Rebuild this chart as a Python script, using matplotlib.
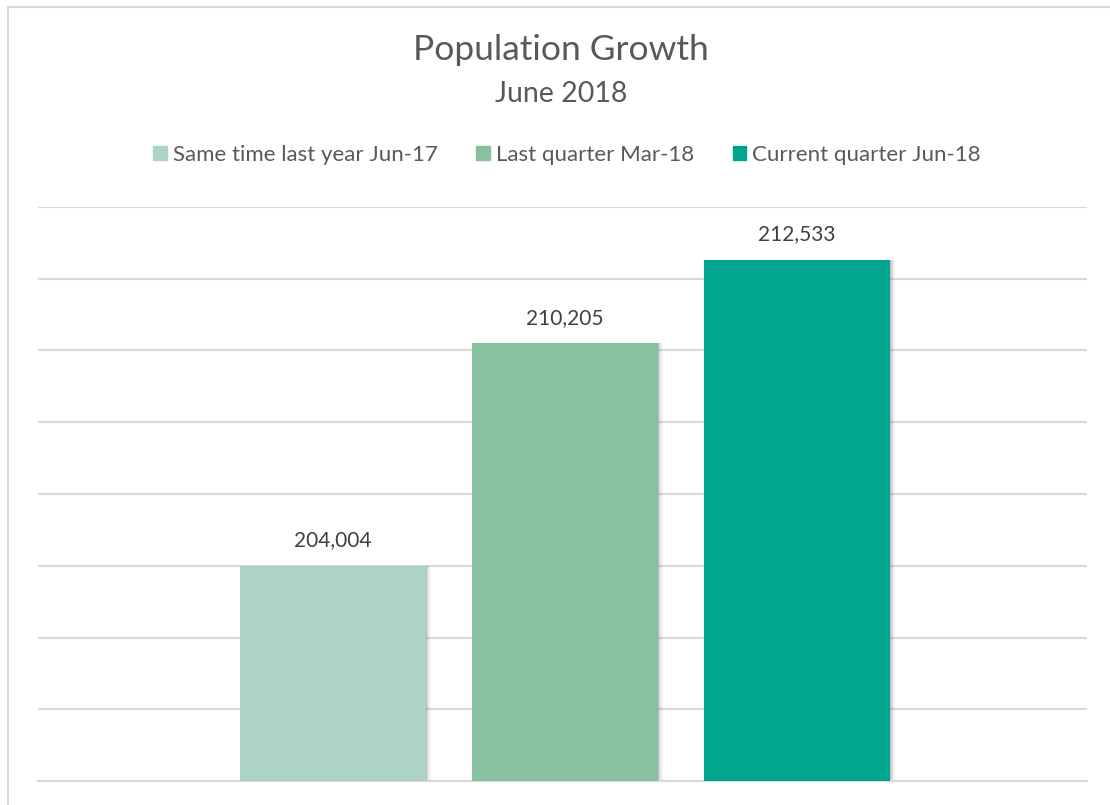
import numpy as np
import matplotlib
matplotlib.use('Agg')
from matplotlib import pyplot
from matplotlib.patches import Rectangle

series = ['Same time last year Jun-17', 'Last quarter Mar-18', 'Current quarter Jun-18']
population = [204004, 210205, 212533]
colors = ['#ADD3C9', '#87C2A0', '#00A58E']
y_ticks = np.arange(198000, 214001, 2000)

pyplot.rcParams['font.family'] = ['Lato', 'DejaVu Sans']

fig = pyplot.figure(figsize=(11.1, 8.05), dpi=100)
ax = fig.add_axes([38 / 1110, 24 / 805, (1087 - 38) / 1110, (781 - 207) / 805])

x = np.arange(len(population))
# soft shadow to the right of each bar
for k, a in enumerate([0.22, 0.14, 0.08, 0.04]):
    ax.bar(x + 0.006 + k * 0.006, population, width=0.8, bottom=0, color='#606060',
           alpha=a, zorder=2)
bars = ax.bar(x, population, width=0.8, color=colors, zorder=3)

for xi, v in zip(x, population):
    ax.annotate(f'{v:,}', (xi, v), xytext=(0, 11), textcoords='offset points',
                ha='center', va='bottom', fontsize=15, color='#404040')

ax.set_ylim(198000, 214000)
ax.set_xlim(-1.27, 3.25)
ax.set_yticks(y_ticks)
ax.yaxis.grid(True, color='#D9D9D9', linewidth=1.5, zorder=0)
ax.set_axisbelow(True)
ax.tick_params(left=False, bottom=False, labelleft=False, labelbottom=False)
for s in ['top', 'right', 'left']:
    ax.spines[s].set_visible(False)
ax.spines['bottom'].set_color('#D9D9D9')
ax.spines['bottom'].set_linewidth(1.5)

cx = 561 / 1110
fig.text(cx, 1 - 50 / 805, 'Population Growth', ha='center', va='center',
         fontsize=25.5, color='#595959')
fig.text(cx, 1 - 94 / 805, 'June 2018', ha='center', va='center',
         fontsize=20.5, color='#595959')

handles = [Rectangle((0, 0), 1, 1, color=c) for c in colors]
fig.legend(handles, series, loc='center', bbox_to_anchor=(567 / 1110, 1 - 155 / 805),
           ncol=3, frameon=False, fontsize=16, handlelength=0.6, handleheight=0.6,
           handletextpad=0.27, columnspacing=1.75, labelcolor='#595959')

# chart border
fig.patches.append(Rectangle((8 / 1110, -0.01), 1.2, 1 - 7 / 805 + 0.01,
                             transform=fig.transFigure, fill=False,
                             edgecolor='#D9D9D9', linewidth=1.5))

fig.savefig('out.png', dpi=100)
